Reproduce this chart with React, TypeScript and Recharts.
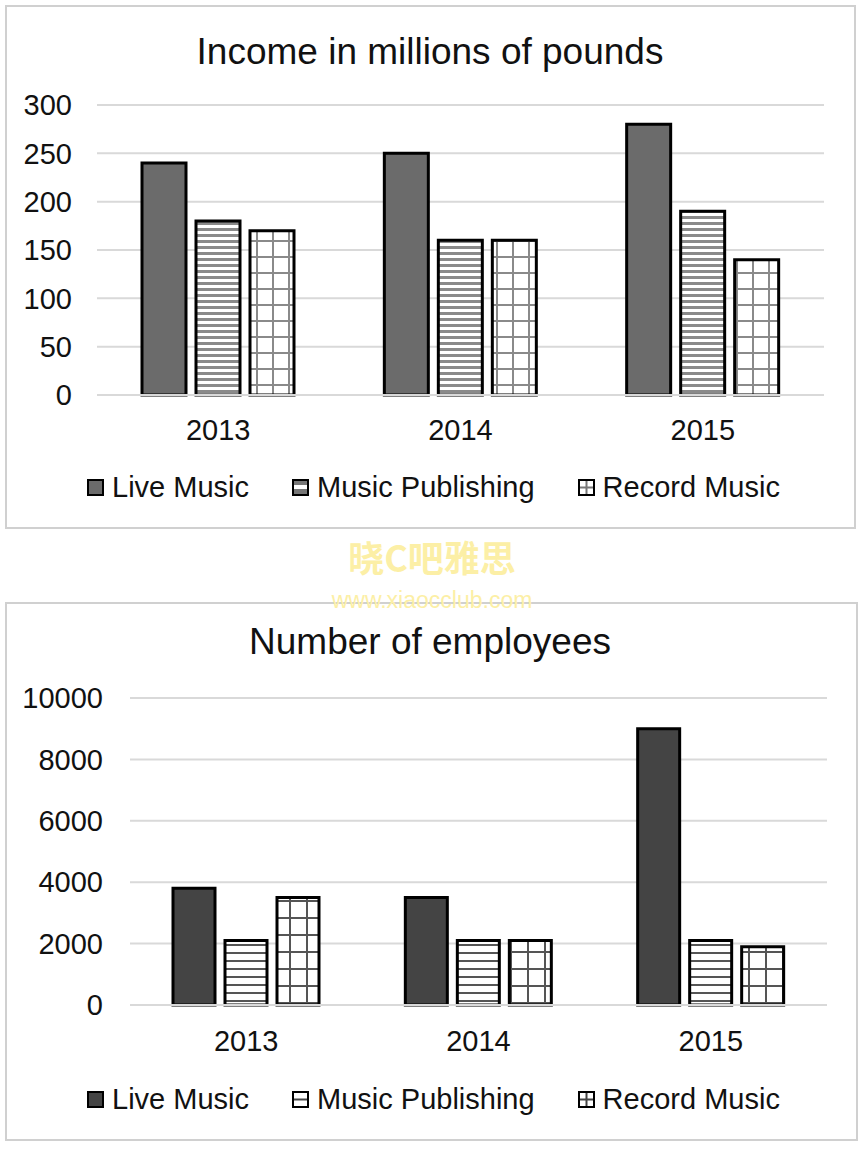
import React from "react";
import { Bar, BarChart, CartesianGrid, XAxis, YAxis } from "recharts";

const years = ["2013", "2014", "2015"];
const liveIncome = [240, 250, 280];
const publishingIncome = [180, 160, 190];
const recordIncome = [170, 160, 140];
const incomeTicks = [0, 50, 100, 150, 200, 250, 300];

const liveStaff = [3800, 3500, 9000];
const publishingStaff = [2100, 2100, 2100];
const recordStaff = [3500, 2100, 1900];
const staffTicks = [0, 2000, 4000, 6000, 8000, 10000];

const seriesNames = ["Live Music", "Music Publishing", "Record Music"];

const incomeData = years.map((year, i) => ({
  year,
  live: liveIncome[i],
  publishing: publishingIncome[i],
  record: recordIncome[i]
}));

const staffData = years.map((year, i) => ({
  year,
  live: liveStaff[i],
  publishing: publishingStaff[i],
  record: recordStaff[i]
}));

const FONT = "'Liberation Sans', Arial, sans-serif";
const tickStyle = { fontSize: 29, fill: "#111", fontFamily: FONT };

const topFills = ["#6b6b6b", "url(#hLinesTop)", "url(#gridTop)"];
const bottomFills = ["#444444", "url(#hLinesBot)", "url(#gridBot)"];

function Patterns() {
  return (
    <svg width={0} height={0} style={{ position: "absolute" }}>
      <defs>
        <pattern id="hLinesTop" width={6} height={6} patternUnits="userSpaceOnUse">
          <rect width={6} height={6} fill="#fff" />
          <rect width={6} height={3} fill="#8a8a8a" />
        </pattern>
        <pattern id="gridTop" width={16} height={16} patternUnits="userSpaceOnUse">
          <rect width={16} height={16} fill="#fff" />
          <rect width={2} height={16} fill="#8a8a8a" />
          <rect width={16} height={2} fill="#8a8a8a" />
        </pattern>
        <pattern id="hLinesBot" width={8} height={8} patternUnits="userSpaceOnUse">
          <rect width={8} height={8} fill="#fff" />
          <rect width={8} height={2} fill="#555" />
        </pattern>
        <pattern id="gridBot" width={17} height={17} patternUnits="userSpaceOnUse">
          <rect width={17} height={17} fill="#fff" />
          <rect width={2} height={17} fill="#555" />
          <rect width={17} height={2} fill="#555" />
        </pattern>
      </defs>
    </svg>
  );
}

// small legend boxes: the fill patterns are too coarse at 16px, so draw a hint of them
function Swatch({ kind, dark }: { kind: number; dark: boolean }) {
  const line = dark ? "#444" : "#777";
  return (
    <svg width={17} height={17} style={{ marginRight: 8 }}>
      <rect x={1} y={1} width={15} height={15} fill={kind === 0 ? (dark ? "#444" : "#6b6b6b") : "#fff"} />
      {kind === 1 && dark && <rect x={1} y={7.5} width={15} height={2} fill={line} />}
      {kind === 1 && !dark && (
        <>
          <rect x={1} y={1} width={15} height={5} fill={line} />
          <rect x={1} y={10} width={15} height={6} fill={line} />
        </>
      )}
      {kind === 2 && (
        <>
          <rect x={1} y={7.5} width={15} height={2} fill={line} />
          <rect x={7.5} y={1} width={2} height={15} fill={line} />
        </>
      )}
      <rect x={1} y={1} width={15} height={15} fill="none" stroke="#000" strokeWidth={2} />
    </svg>
  );
}

function LegendRow({ dark, top }: { dark: boolean; top: number }) {
  return (
    <div
      style={{
        position: "absolute",
        left: 87,
        top,
        display: "flex",
        alignItems: "center",
        fontFamily: FONT,
        fontSize: 29,
        color: "#111",
        whiteSpace: "nowrap"
      }}
    >
      {seriesNames.map((name, i) => (
        <div key={name} style={{ display: "flex", alignItems: "center", marginRight: 43 }}>
          <Swatch kind={i} dark={dark} />
          <span>{name}</span>
        </div>
      ))}
    </div>
  );
}

function Panel({ left, top, width, height }: { left: number; top: number; width: number; height: number }) {
  return (
    <div
      style={{
        position: "absolute",
        left,
        top,
        width,
        height,
        border: "2px solid #d0d0d0",
        boxSizing: "border-box"
      }}
    />
  );
}

function Title({ text, top }: { text: string; top: number }) {
  return (
    <div
      style={{
        position: "absolute",
        left: 0,
        top,
        width: 860,
        textAlign: "center",
        fontFamily: FONT,
        fontSize: 37,
        lineHeight: "37px",
        color: "#111"
      }}
    >
      {text}
    </div>
  );
}

export default function App() {
  return (
    <div style={{ position: "absolute", left: 0, top: 0, width: 864, height: 1149, background: "#fff" }}>
      <Patterns />
      <Panel left={5} top={5} width={851} height={524} />
      <Panel left={5} top={602} width={853} height={539} />

      <div style={{ position: "absolute", left: 0, top: 0 }}>
        <BarChart
          width={864}
          height={530}
          data={incomeData}
          margin={{ top: 105, right: 40, bottom: 95, left: 0 }}
          barSize={44}
          barGap={10}
        >
          <CartesianGrid vertical={false} stroke="#d9d9d9" strokeWidth={2} />
          <XAxis
            dataKey="year"
            height={40}
            tickLine={false}
            tickSize={0}
            tickMargin={24}
            axisLine={{ stroke: "#d9d9d9", strokeWidth: 2 }}
            tick={tickStyle}
          />
          <YAxis
            width={97}
            domain={[0, 300]}
            ticks={incomeTicks}
            tickLine={false}
            axisLine={false}
            tickSize={0}
            tickMargin={25}
            tick={tickStyle}
          />
          <Bar dataKey="live" fill={topFills[0]} stroke="#000" strokeWidth={3} isAnimationActive={false} />
          <Bar dataKey="publishing" fill={topFills[1]} stroke="#000" strokeWidth={3} isAnimationActive={false} />
          <Bar dataKey="record" fill={topFills[2]} stroke="#000" strokeWidth={3} isAnimationActive={false} />
        </BarChart>
      </div>
      <Title text="Income in millions of pounds" top={33} />
      <LegendRow dark={false} top={471} />

      <div style={{ position: "absolute", left: 0, top: 560 }}>
        <BarChart
          width={864}
          height={560}
          data={staffData}
          margin={{ top: 138, right: 37, bottom: 75, left: 0 }}
          barSize={42}
          barGap={10}
        >
          <CartesianGrid vertical={false} stroke="#d9d9d9" strokeWidth={2} />
          <XAxis
            dataKey="year"
            height={40}
            tickLine={false}
            tickSize={0}
            tickMargin={25}
            axisLine={{ stroke: "#d9d9d9", strokeWidth: 2 }}
            tick={tickStyle}
          />
          <YAxis
            width={130}
            domain={[0, 10000]}
            ticks={staffTicks}
            tickLine={false}
            axisLine={false}
            tickSize={0}
            tickMargin={27}
            tick={tickStyle}
          />
          <Bar dataKey="live" fill={bottomFills[0]} stroke="#000" strokeWidth={3} isAnimationActive={false} />
          <Bar dataKey="publishing" fill={bottomFills[1]} stroke="#000" strokeWidth={3} isAnimationActive={false} />
          <Bar dataKey="record" fill={bottomFills[2]} stroke="#000" strokeWidth={3} isAnimationActive={false} />
        </BarChart>
      </div>
      <Title text="Number of employees" top={623} />
      <LegendRow dark={true} top={1083} />

      <div
        style={{
          position: "absolute",
          left: 0,
          top: 536,
          width: 864,
          textAlign: "center",
          fontFamily: "'Noto Sans CJK SC', sans-serif",
          fontWeight: 700,
          fontSize: 36,
          lineHeight: "40px",
          color: "#fcefa6"
        }}
      >
        晓C吧雅思
      </div>
      <div
        style={{
          position: "absolute",
          left: 0,
          top: 588,
          width: 864,
          textAlign: "center",
          fontFamily: FONT,
          fontSize: 23,
          lineHeight: "24px",
          color: "#fcefa6"
        }}
      >
        www.xiaocclub.com
      </div>
    </div>
  );
}
